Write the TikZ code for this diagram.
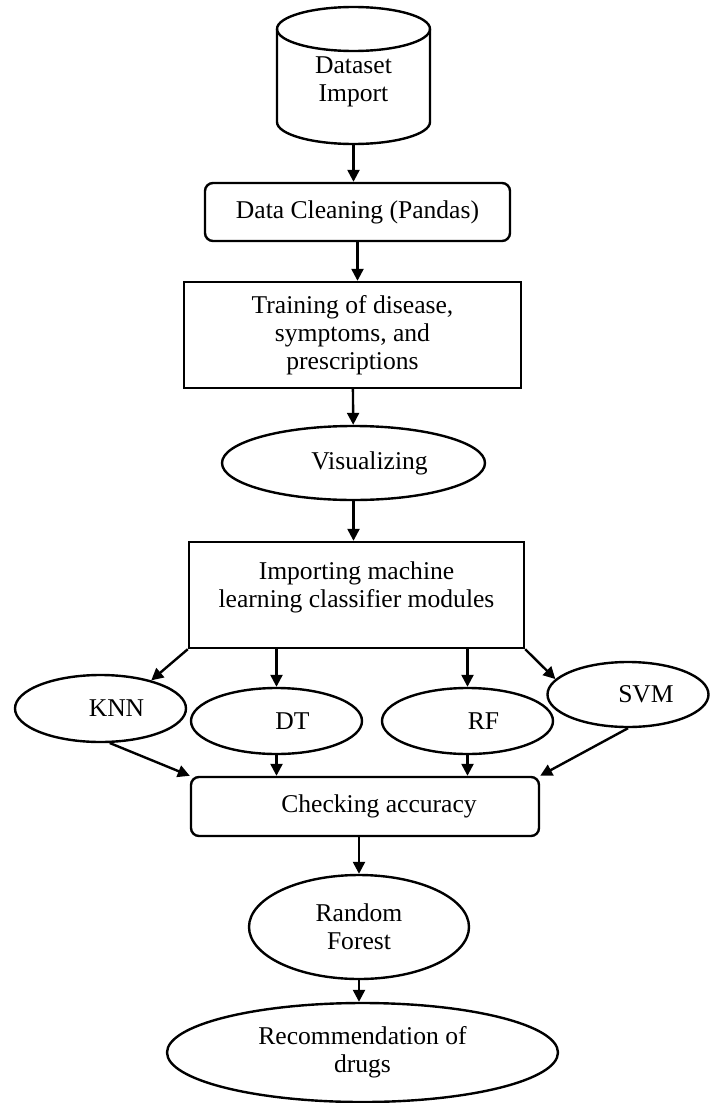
\documentclass[tikz,border=0pt]{standalone}
\usepackage{fontspec}
\setmainfont{Liberation Serif}
\usetikzlibrary{shapes.geometric,arrows.meta,calc}

\tikzset{
    boxnode/.style={draw, line width=1.2pt, align=center, inner sep=1pt},
    roundnode/.style={boxnode, rounded corners=4pt},
    ovalnode/.style={draw, ellipse, line width=1.2pt, align=center, inner sep=1pt},
    arr/.style={line width=1.2pt, -{Triangle[length=6pt,width=6pt]}}
}

\begin{document}
\begin{tikzpicture}[x=0.5pt, y=-0.5pt, font=\fontsize{12.8}{14}\selectfont]
    \useasboundingbox (0,0) rectangle (709,1103);

    % dataset cylinder
    \coordinate (cyltop) at (353.5,29);
    \coordinate (cylbot) at (353.5,144);
    \node[align=center, inner sep=0pt] (cyl) at (353.5,82) {Dataset\\Import};
    \draw[line width=1.2pt] (cyltop) ellipse [x radius=38.25pt, y radius=11pt];
    \draw[line width=1.2pt] ($(cyltop)+(-76.5,0)$) -- ++(0,93)
        arc[start angle=180, end angle=360, x radius=38.25pt, y radius=11pt] -- ($(cyltop)+(76.5,0)$);

    % main column
    \node[roundnode, minimum width=152.5pt, minimum height=29pt] (dc) at (357.5,212) {Data Cleaning (Pandas)};
    \node[boxnode, minimum width=168.5pt, minimum height=53pt] (train) at (352.5,335) {Training of disease,\\symptoms, and\\prescriptions};
    \node[ovalnode, minimum width=131.5pt, minimum height=37pt] (vis) at (353.5,463) {\hspace*{16pt}Visualizing};
    \node[boxnode, minimum width=167.5pt, minimum height=53pt] (imp) at (356.5,595) {Importing machine\\learning classifier modules\\[-4pt]\mbox{}};

    % classifiers
    \node[ovalnode, minimum width=85.5pt, minimum height=33.5pt] (knn) at (100.5,708.5) {\hspace*{16pt}KNN};
    \node[ovalnode, minimum width=85.5pt, minimum height=33pt] (dt) at (276.5,721) {\hspace*{16pt}DT};
    \node[ovalnode, minimum width=85.5pt, minimum height=33pt] (rf) at (467.5,721) {\hspace*{16pt}RF};
    \node[ovalnode, minimum width=80.5pt, minimum height=32.5pt] (svm) at (628,694.5) {\hspace*{18pt}SVM};

    \node[roundnode, minimum width=174pt, minimum height=29.5pt] (chk) at (365,806.5) {\hspace*{14pt}Checking accuracy};
    \node[ovalnode, minimum width=110pt, minimum height=52pt] (rfo) at (359,927) {Random\\Forest};
    \node[ovalnode, minimum width=195.5pt, minimum height=49.5pt] (rec) at (362.5,1052.5) {Recommendation of\\drugs};

    % arrows
    \draw[arr] (cylbot) -- (cylbot |- dc.north);
    \draw[arr] (dc) -- (dc.north |- train.north);
    \draw[arr] (train) -- (vis);
    \draw[arr] (vis) -- (vis |- imp.north);

    \draw[arr] (imp.south west) -- (knn.29);
    \draw[arr] (dt |- imp.south) -- (dt);
    \draw[arr] (rf |- imp.south) -- (rf);
    \draw[arr] (imp.south east) -- (svm.168);

    \draw[arr] (knn.285) -- (chk.north west);
    \draw[arr] (dt) -- (dt |- chk.north);
    \draw[arr] (rf) -- (rf |- chk.north);
    \draw[arr] (svm.south) -- (chk.north east);

    \draw[arr] (rfo |- chk.south) -- (rfo);
    \draw[arr] (rfo) -- (rfo |- rec.north);
\end{tikzpicture}
\end{document}
